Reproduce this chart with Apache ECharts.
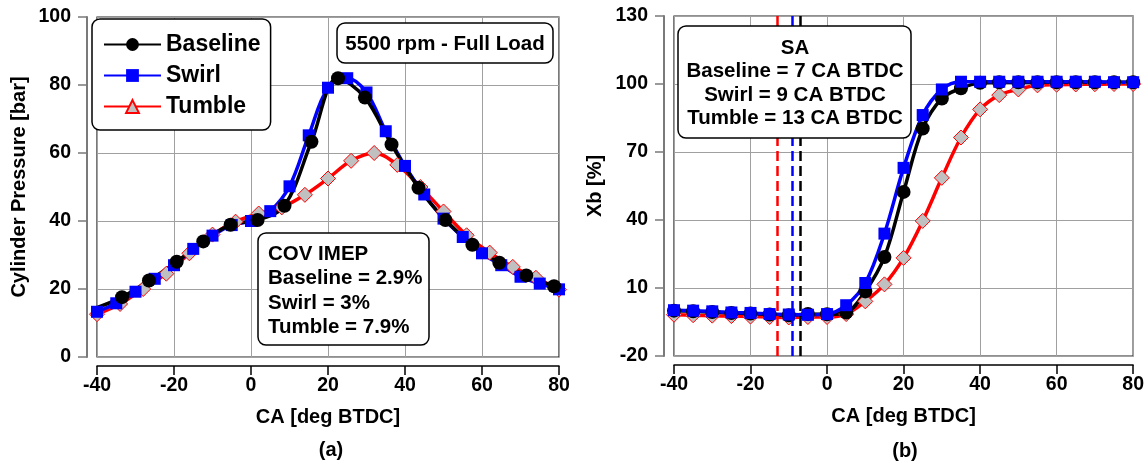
<!DOCTYPE html>
<html><head><meta charset="utf-8">
<script src="https://cdn.jsdelivr.net/npm/echarts@6/dist/echarts.min.js"></script>
<style>html,body{margin:0;padding:0;background:#fff}#c{width:1147px;height:466px}</style>
</head><body><div id="c"></div>
<script>
// ---------- data ----------
const seriesNames = ['Baseline', 'Swirl', 'Tumble'];
const caTicks = [-40, -20, 0, 20, 40, 60, 80];
const pressureTicks = [0, 20, 40, 60, 80, 100];
const xbTicks = [-20, 10, 40, 70, 100, 130];

// (a) cylinder pressure [bar]
const caBaselineP = [-40.5, -33.5, -26.5, -19.3, -12.4, -5.3, 1.7, 8.7, 15.7, 22.6, 29.6, 36.5, 43.5, 50.5, 57.5, 64.5, 71.5, 78.7];
const pBaseline   = [14.3, 17.6, 22.5, 28.0, 34.0, 38.9, 40.3, 44.5, 63.3, 82.0, 76.3, 62.5, 49.8, 40.3, 33.0, 27.7, 24.0, 20.8];
const caSwirlP = [-40, -35, -30, -25, -20, -15, -10, -5, 0, 5, 10, 15, 20, 25, 30, 35, 40, 45, 50, 55, 60, 65, 70, 75, 80];
const pSwirl   = [13.3, 15.8, 19.2, 23.0, 27.0, 31.8, 35.7, 38.8, 40.0, 42.9, 50.2, 65.2, 79.2, 82.0, 77.8, 66.4, 56.2, 47.8, 40.7, 35.3, 30.5, 27.0, 23.6, 21.6, 19.9];
const caTumbleP = [-40, -34, -28, -22, -16, -10, -4, 2, 8, 14, 20, 26, 32, 38, 44, 50, 56, 62, 68, 74, 80];
const pTumble   = [12.6, 15.6, 20.0, 24.5, 30.5, 36.0, 39.8, 42.2, 44.0, 47.7, 52.5, 57.7, 60.0, 56.5, 50.0, 42.8, 35.8, 30.7, 26.5, 23.3, 19.8];

// (b) mass fraction burned [%]
const caXb = [-40, -35, -30, -25, -20, -15, -10, -5, 0, 5, 10, 15, 20, 25, 30, 35, 40, 45, 50, 55, 60, 65, 70, 75, 80];
const xbBaseline = [0.0, -0.3, -0.6, -1.0, -1.3, -1.7, -2.0, -1.5, -1.6, -0.8, 8.5, 23.7, 52.4, 80.4, 93.6, 98.1, 100.5, 100.8, 100.8, 100.8, 100.8, 100.8, 100.8, 100.8, 100.8];
const xbSwirl    = [0.2, 0.0, -0.3, -0.8, -1.0, -1.5, -1.7, -1.8, -1.5, 2.4, 12.2, 34.0, 63.0, 86.3, 97.6, 101.0, 101.0, 101.0, 101.0, 101.0, 101.0, 101.0, 101.0, 100.8, 100.8];
const xbTumble   = [-1.8, -2.0, -2.2, -2.4, -2.6, -2.8, -3.0, -2.8, -2.8, -1.5, 4.1, 11.6, 23.3, 39.6, 58.6, 76.4, 88.8, 95.1, 97.6, 99.4, 99.7, 99.8, 99.9, 100.0, 100.0];

// spark advance [CA BTDC] -> drawn at negative CA
const saBaseline = -7;
const saSwirl = -9;
const saTumble = -13;

const coverTexts = ['COV IMEP', 'Baseline = 2.9%', 'Swirl = 3%', 'Tumble = 7.9%'];
const saTexts = ['SA', 'Baseline = 7 CA BTDC', 'Swirl = 9 CA BTDC', 'Tumble = 13 CA BTDC'];
const conditionText = '5500 rpm - Full Load';

// ---------- styling ----------
const FONT = '"Liberation Sans", Arial, Helvetica, sans-serif';
const BOLD = 'bold';
const zip = (xs, ys) => xs.map((x, i) => [x, ys[i]]);

function xAxisCfg(gi) {
  return {
    type: 'value', gridIndex: gi, min: caTicks[0], max: caTicks[caTicks.length - 1], interval: 20,
    offset: 9,
    name: 'CA [deg BTDC]', nameLocation: 'middle', nameGap: 41,
    nameTextStyle: { fontFamily: FONT, fontSize: 20, fontWeight: BOLD, color: '#000' },
    axisLine: { show: true, onZero: false, lineStyle: { color: '#000', width: 1.5 } },
    axisTick: { show: true, length: 9, lineStyle: { color: '#000', width: 1.5 } },
    axisLabel: { margin: 10, fontFamily: FONT, fontSize: 19.5, fontWeight: BOLD, color: '#000' },
    splitLine: { show: true, lineStyle: { color: '#a0a0a0', width: 1 } }
  };
}
function yAxisCfg(gi, name, nameGap, extra) {
  return Object.assign({
    type: 'value', gridIndex: gi, offset: 10,
    name: name, nameLocation: 'middle', nameGap: nameGap,
    nameTextStyle: { fontFamily: FONT, fontSize: 20, fontWeight: BOLD, color: '#000' },
    axisLine: { show: true, onZero: false, lineStyle: { color: '#7a7a7a', width: 2 } },
    axisTick: { show: true, length: 9, lineStyle: { color: '#7a7a7a', width: 1.5 } },
    axisLabel: { margin: 16, fontFamily: FONT, fontSize: 19.5, fontWeight: BOLD, color: '#000' },
    splitLine: { show: true, lineStyle: { color: '#a0a0a0', width: 1 } }
  }, extra);
}

const styles = {
  Baseline: { symbol: 'circle', symbolSize: 14, itemStyle: { color: '#000' }, lineStyle: { color: '#000', width: 3.5 } },
  Swirl: { symbol: 'rect', symbolSize: 12, itemStyle: { color: '#0000ff' }, lineStyle: { color: '#0000ff', width: 3.5 } },
  Tumble: { symbol: 'triangle', symbolSize: 15, itemStyle: { color: '#c0c0c0', borderColor: '#ff0000', borderWidth: 1 }, lineStyle: { color: '#ff0000', width: 3.5 } }
};

function lineSeries(name, gi, data, extra) {
  const s = styles[name];
  return Object.assign({
    type: 'line', name: name, xAxisIndex: gi, yAxisIndex: gi,
    smooth: 0.35, symbol: s.symbol, symbolSize: s.symbolSize,
    itemStyle: s.itemStyle, lineStyle: s.lineStyle,
    data: data, animation: false
  }, extra || {});
}
// tumble markers are diamonds on the curves; the legend keeps the triangle
const tumbleItems = (xs, ys) => zip(xs, ys).map(v => ({ value: v, symbol: 'diamond' }));

function saLine(value, color) {
  return {
    silent: true, symbol: ['none', 'none'], label: { show: false },
    lineStyle: { color: color, type: [10, 5], width: 2.5 },
    data: [{ xAxis: value }], animation: false
  };
}

function box(x, y, w, h) {
  return { type: 'rect', z: 100, shape: { x: x, y: y, width: w, height: h, r: 8 },
           style: { fill: '#fff', stroke: '#000', lineWidth: 1.5 } };
}
function txt(t, x, y, align, size) {
  return { type: 'text', z: 101, x: x, y: y,
           style: { text: t, fill: '#000', font: BOLD + ' ' + (size || 20.5) + 'px ' + FONT, textAlign: align, textVerticalAlign: 'middle' } };
}

const graphics = [
  box(337, 23, 216, 40), txt(conditionText, 445, 44, 'center', 20.5),
  box(258, 233, 171, 112),
  txt(coverTexts[0], 268, 254, 'left'), txt(coverTexts[1], 268, 278, 'left'),
  txt(coverTexts[2], 268, 303, 'left'), txt(coverTexts[3], 268, 327, 'left'),
  box(678, 26, 233, 112),
  txt(saTexts[0], 795, 48, 'center'), txt(saTexts[1], 795, 71, 'center'),
  txt(saTexts[2], 795, 95, 'center'), txt(saTexts[3], 795, 118, 'center'),
  txt('(a)', 331, 450, 'center', 20), txt('(b)', 905, 451, 'center', 20)
];

const option = {
  animation: false,
  backgroundColor: '#fff',
  grid: [
    { left: 97, top: 17, width: 462, height: 340, show: true, borderColor: '#222', borderWidth: 1.2, containLabel: false },
    { left: 674, top: 16, width: 461, height: 340, show: true, borderColor: '#222', borderWidth: 1.2, containLabel: false }
  ],
  legend: {
    data: seriesNames, orient: 'vertical', left: 92, top: 19,
    itemWidth: 57, itemHeight: 16, itemGap: 8, padding: [14, 10, 12, 11],
    borderColor: '#000', borderWidth: 1.5, borderRadius: 8, backgroundColor: '#fff',
    textStyle: { fontFamily: FONT, fontSize: 23, fontWeight: BOLD, color: '#000', lineHeight: 22 }
  },
  xAxis: [xAxisCfg(0), xAxisCfg(1)],
  yAxis: [
    yAxisCfg(0, 'Cylinder Pressure [bar]', 58, { min: pressureTicks[0], max: pressureTicks[pressureTicks.length - 1], interval: 20 }),
    yAxisCfg(1, 'Xb [%]', 59, { min: xbTicks[0], max: xbTicks[xbTicks.length - 1] })
  ],
  series: [
    lineSeries('Tumble', 0, tumbleItems(caTumbleP, pTumble)),
    lineSeries('Swirl', 0, zip(caSwirlP, pSwirl)),
    lineSeries('Baseline', 0, zip(caBaselineP, pBaseline)),
    lineSeries('Tumble', 1, tumbleItems(caXb, xbTumble), { markLine: saLine(saTumble, '#ff0000') }),
    lineSeries('Baseline', 1, zip(caXb, xbBaseline), { markLine: saLine(saBaseline, '#000') }),
    lineSeries('Swirl', 1, zip(caXb, xbSwirl), { markLine: saLine(saSwirl, '#0000ff') })
  ],
  graphic: graphics
};
// right y-axis ticks at -20, 10, 40, ... (not multiples of the step from zero)
option.yAxis[1].axisTick.customValues = xbTicks;
option.yAxis[1].axisLabel.customValues = xbTicks;

const chart = echarts.init(document.getElementById('c'), null, { renderer: 'canvas' });
chart.setOption(option);
</script></body></html>
